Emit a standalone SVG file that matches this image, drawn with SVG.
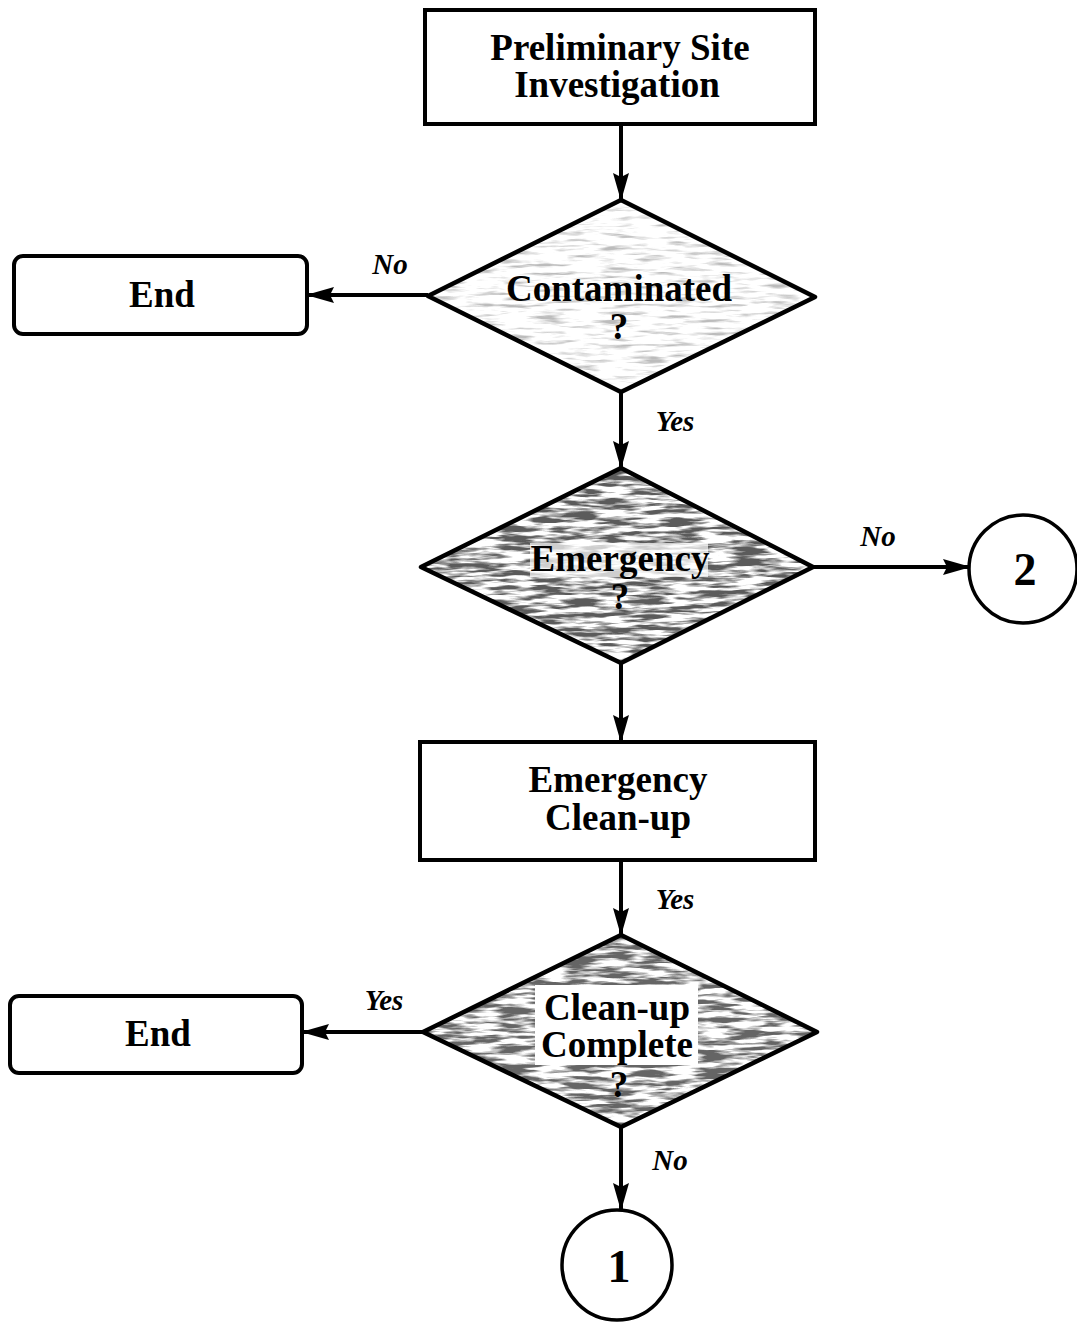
<svg xmlns="http://www.w3.org/2000/svg" width="1077" height="1322" viewBox="0 0 1077 1322">
<style>
.box{fill:#fff;stroke:#000;stroke-width:4}
.dia{stroke:#000;stroke-width:4.5;fill:none;stroke-linejoin:round}
.circ{fill:#fff;stroke:#000;stroke-width:3.5}
.t{font-family:"Liberation Serif",serif;font-weight:bold;font-size:37px;text-anchor:middle;fill:#000}
.num{font-size:46px}
.lab{font-family:"Liberation Serif",serif;font-style:italic;font-weight:bold;font-size:29px;text-anchor:middle;fill:#000}
.ln{stroke:#000;stroke-width:4;fill:none}
</style>
<defs>
<marker id="ah" viewBox="0 0 28 16" refX="27" refY="8" markerWidth="28" markerHeight="16" markerUnits="userSpaceOnUse" orient="auto">
<path d="M0,0 L28,8 L0,16 L4,8 Z" fill="#000"/>
</marker>
<filter id="speckL" x="0" y="0" width="1" height="1">
<feTurbulence type="fractalNoise" baseFrequency="0.03 0.25" numOctaves="3" seed="4"/>
<feColorMatrix type="matrix" values="0 0 0 0 0.1 0 0 0 0 0.1 0 0 0 0 0.1 3.5 0 0 0 -1.75"/>
</filter>
<filter id="speckD" x="0" y="0" width="1" height="1">
<feTurbulence type="fractalNoise" baseFrequency="0.03 0.22" numOctaves="3" seed="9"/>
<feColorMatrix type="matrix" values="0 0 0 0 0.05 0 0 0 0 0.05 0 0 0 0 0.05 4.5 0 0 0 -1.8"/>
</filter>
<clipPath id="c1"><polygon points="621,200 815,297 621,392 428,296"/></clipPath>
<clipPath id="c2"><polygon points="621,468 813,567 621,663 421,567"/></clipPath>
<clipPath id="c3"><polygon points="621,935 817,1032 621,1127 423,1032"/></clipPath>
</defs>

<g id="connectors">
<line class="ln" x1="621" y1="124" x2="621" y2="200" marker-end="url(#ah)"/>
<line class="ln" x1="428" y1="295" x2="307" y2="295" marker-end="url(#ah)"/>
<text class="lab" x="390" y="274">No</text>
<line class="ln" x1="621" y1="392" x2="621" y2="468" marker-end="url(#ah)"/>
<text class="lab" x="675" y="431">Yes</text>
<line class="ln" x1="813" y1="567" x2="970" y2="567" marker-end="url(#ah)"/>
<text class="lab" x="878" y="546">No</text>
<line class="ln" x1="621" y1="663" x2="621" y2="742" marker-end="url(#ah)"/>
<line class="ln" x1="621" y1="860" x2="621" y2="935" marker-end="url(#ah)"/>
<text class="lab" x="675" y="909">Yes</text>
<line class="ln" x1="423" y1="1032" x2="302" y2="1032" marker-end="url(#ah)"/>
<text class="lab" x="384" y="1010">Yes</text>
<line class="ln" x1="621" y1="1127" x2="621" y2="1210" marker-end="url(#ah)"/>
<text class="lab" x="670" y="1170">No</text>
</g>

<g id="n-prelim">
<rect class="box" x="425" y="10" width="390" height="114"/>
<text class="t" x="620" y="60">Preliminary Site</text>
<text class="t" x="617" y="97">Investigation</text>
</g>

<g id="n-contaminated">
<polygon points="621,200 815,297 621,392 428,296" fill="#fff"/>
<g clip-path="url(#c1)"><rect x="420" y="195" width="400" height="200" filter="url(#speckL)" opacity="0.4"/></g>
<polygon class="dia" points="621,200 815,297 621,392 428,296"/>
<text class="t" x="619" y="301">Contaminated</text>
<text class="t" x="619" y="339">?</text>
</g>

<g id="n-end1">
<rect class="box" x="14" y="256" width="293" height="78" rx="9"/>
<text class="t" x="162" y="307">End</text>
</g>

<g id="n-emergency">
<polygon points="621,468 813,567 621,663 421,567" fill="#fff"/>
<g clip-path="url(#c2)"><rect x="415" y="463" width="405" height="205" filter="url(#speckD)" opacity="0.85"/></g>
<polygon class="dia" points="621,468 813,567 621,663 421,567"/>
<rect x="530" y="543" width="178" height="34" fill="#fff" opacity="0.7"/>
<text class="t" x="620" y="571">Emergency</text>
<text class="t" x="620" y="609">?</text>
</g>

<g id="n-two">
<circle class="circ" cx="1023" cy="569" r="54"/>
<text class="t num" x="1025" y="585">2</text>
</g>

<g id="n-cleanup">
<rect class="box" x="420" y="742" width="395" height="118"/>
<text class="t" x="618" y="792">Emergency</text>
<text class="t" x="618" y="830">Clean-up</text>
</g>

<g id="n-complete">
<polygon points="621,935 817,1032 621,1127 423,1032" fill="#fff"/>
<g clip-path="url(#c3)"><rect x="418" y="930" width="405" height="202" filter="url(#speckD)" opacity="0.8"/></g>
<polygon class="dia" points="621,935 817,1032 621,1127 423,1032"/>
<rect x="535" y="985" width="163" height="80" fill="#fff"/>
<text class="t" x="617" y="1020">Clean-up</text>
<text class="t" x="617" y="1057">Complete</text>
<text class="t" x="619" y="1097">?</text>
</g>

<g id="n-end2">
<rect class="box" x="10" y="996" width="292" height="77" rx="9"/>
<text class="t" x="158" y="1046">End</text>
</g>

<g id="n-one">
<circle class="circ" cx="617" cy="1265" r="55"/>
<text class="t num" x="619" y="1282">1</text>
</g>
</svg>
